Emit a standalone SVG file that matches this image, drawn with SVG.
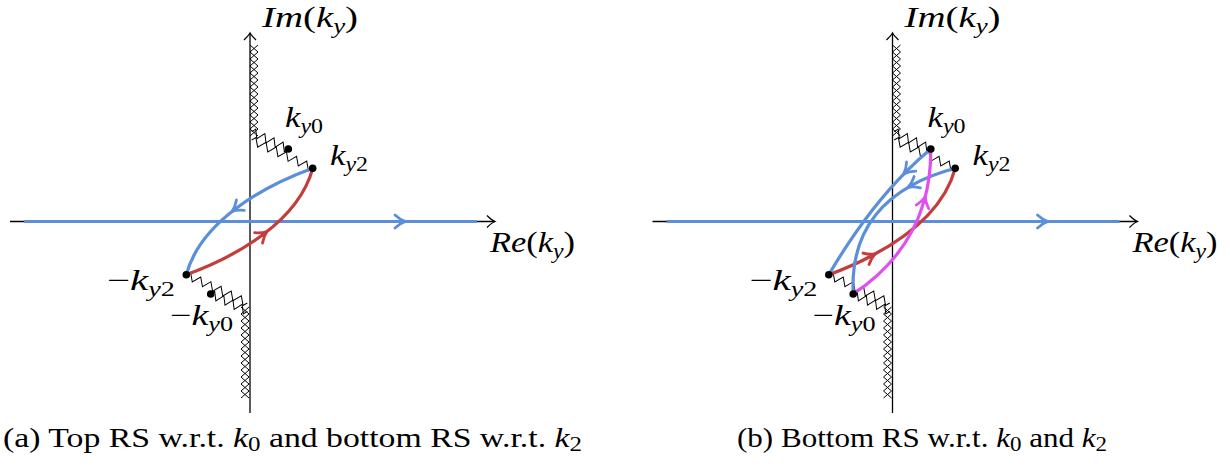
<svg xmlns="http://www.w3.org/2000/svg" xmlns:xlink="http://www.w3.org/1999/xlink" width="1230" height="468" viewBox="0 0 1230 468">
<style>
.ax{fill:none;stroke:#000;stroke-width:1.3}
.zz{fill:none;stroke:#000;stroke-width:1;stroke-linejoin:miter}
.cb{fill:none;stroke:#5b8fd9;stroke-width:3.2}
.cr{fill:none;stroke:#c43c3c;stroke-width:3.2}
.cm{fill:none;stroke:#e04ff0;stroke-width:3.2}
.dot{fill:#000}
.m{font-family:"Liberation Serif","DejaVu Serif",serif;font-size:29px;fill:#000}
.i{font-style:italic}
.s{font-size:20px}
.cap{font-family:"Liberation Serif","DejaVu Serif",serif;font-size:27px;fill:#000}
</style>
<defs>
<marker id="ab" markerUnits="userSpaceOnUse" orient="auto" markerWidth="20" markerHeight="20" viewBox="-10 -10 20 20" refX="0" refY="0" overflow="visible"><path d="M-6,-6.5 Q-1,-1.8 4.5,0 Q-1,1.8 -6,6.5" fill="none" stroke="#5b8fd9" stroke-width="2.8" stroke-linecap="round"/></marker>
<marker id="ar" markerUnits="userSpaceOnUse" orient="auto" markerWidth="20" markerHeight="20" viewBox="-10 -10 20 20" refX="0" refY="0" overflow="visible"><path d="M-6,-6.5 Q-1,-1.8 4.5,0 Q-1,1.8 -6,6.5" fill="none" stroke="#c43c3c" stroke-width="2.8" stroke-linecap="round"/></marker>
<marker id="am" markerUnits="userSpaceOnUse" orient="auto" markerWidth="20" markerHeight="20" viewBox="-10 -10 20 20" refX="0" refY="0" overflow="visible"><path d="M-6,-6.5 Q-1,-1.8 4.5,0 Q-1,1.8 -6,6.5" fill="none" stroke="#e04ff0" stroke-width="2.8" stroke-linecap="round"/></marker>
<path id="z1" class="zz" d="M0,0 l2.53,-4 l5.06,8 l5.06,-8 l5.06,8 l5.06,-8 l5.06,8 l5.06,-8 l5.06,8 l2.53,-4"/>
<path id="z2" class="zz" d="M0,0 l2.8,-4 l5.6,8 l5.6,-8 l5.6,8 l5.6,-8 l5.6,8 l5.6,-8 l5.6,8 l5.6,-8 l5.6,8 l5.6,-8 l5.6,8 l2.8,-4"/>
<g id="hatch">
<path class="zz" d="M250,45 l8,7 l-8,7 l8,7 l-8,7 l8,7 l-8,7 l8,7 l-8,7 l8,7 l-8,7 l8,7 l-8,7 l8,7"/>
<path class="zz" d="M258,45 l-8,7 l8,7 l-8,7 l8,7 l-8,7 l8,7 l-8,7 l8,7 l-8,7 l8,7 l-8,7 l8,7 l-8,7"/>
<path class="zz" d="M249,398 l-8,-7 l8,-7 l-8,-7 l8,-7 l-8,-7 l8,-7 l-8,-7 l8,-7 l-8,-7 l8,-7 l-8,-7 l8,-7 l-8,-7"/>
<path class="zz" d="M241,398 l8,-7 l-8,-7 l8,-7 l-8,-7 l8,-7 l-8,-7 l8,-7 l-8,-7 l8,-7 l-8,-7 l8,-7 l-8,-7 l8,-7"/>
<use xlink:href="#z1" href="#z1" transform="translate(251.7,131.7) rotate(25.3)"/>
<use xlink:href="#z2" href="#z2" transform="translate(251.7,140) rotate(24.9)"/>
<use xlink:href="#z1" href="#z1" transform="translate(247.3,311.3) rotate(205.3)"/>
<use xlink:href="#z2" href="#z2" transform="translate(247.3,303) rotate(204.9)"/>
</g>
<g id="axes">
<path class="ax" d="M10,221.5 H495"/>
<path class="ax" d="M487,215.5 C489.5,218 492.5,220.5 495,221.5 C492.5,222.5 489.5,225 487,227.5"/>
<path class="ax" d="M250,413 V33"/>
<path class="ax" d="M244,40 C246.5,37.5 249,35 250,33 C251,35 253.5,37.5 256,40"/>
<path class="cb" d="M24,221.5 H401 H477" marker-mid="url(#ab)"/>
</g>
</defs>

<g id="panel-a">
<use xlink:href="#hatch" href="#hatch"/>
<use xlink:href="#axes" href="#axes"/>
<text class="m" x="262" y="27" textLength="96" lengthAdjust="spacingAndGlyphs"><tspan class="i">Im</tspan>(<tspan class="i">k</tspan><tspan class="s i" dy="6">y</tspan><tspan dy="-6">)</tspan></text>
<text class="m" x="490" y="252" textLength="85" lengthAdjust="spacingAndGlyphs"><tspan class="i">Re</tspan>(<tspan class="i">k</tspan><tspan class="s i" dy="6">y</tspan><tspan dy="-6">)</tspan></text>
<g id="a-connectors">
<path class="cb" d="M312.7,168.3 C287.1,177.6 259.02,191.05 235.59,208.75 C212.15,226.45 193.35,248.4 186.3,274.7" marker-mid="url(#ab)"/>
<path class="cr" d="M186.3,274.7 C211.9,265.4 239.98,251.95 263.41,234.25 C286.85,216.55 305.65,194.6 312.7,168.3" marker-mid="url(#ar)"/>
</g>
<g id="a-ky0"><circle class="dot" cx="288.3" cy="149" r="3.8"/><text class="m" x="285" y="127" textLength="38" lengthAdjust="spacingAndGlyphs"><tspan class="i">k</tspan><tspan class="s i" dy="6">y</tspan><tspan class="s">0</tspan></text></g>
<g id="a-ky2"><circle class="dot" cx="312.7" cy="168.3" r="3.8"/><text class="m" x="330" y="165" textLength="38" lengthAdjust="spacingAndGlyphs"><tspan class="i">k</tspan><tspan class="s i" dy="6">y</tspan><tspan class="s">2</tspan></text></g>
<g id="a-mky2"><circle class="dot" cx="186.3" cy="274.7" r="3.8"/><text class="m" x="107" y="290" textLength="68" lengthAdjust="spacingAndGlyphs">−<tspan class="i">k</tspan><tspan class="s i" dy="6">y</tspan><tspan class="s">2</tspan></text></g>
<g id="a-mky0"><circle class="dot" cx="210.7" cy="294" r="3.8"/><text class="m" x="170" y="325" textLength="63" lengthAdjust="spacingAndGlyphs">−<tspan class="i">k</tspan><tspan class="s i" dy="6">y</tspan><tspan class="s">0</tspan></text></g>
</g>

<g id="panel-b" transform="translate(642.5,0)">
<use xlink:href="#hatch" href="#hatch"/>
<use xlink:href="#axes" href="#axes"/>
<text class="m" x="262" y="27" textLength="96" lengthAdjust="spacingAndGlyphs"><tspan class="i">Im</tspan>(<tspan class="i">k</tspan><tspan class="s i" dy="6">y</tspan><tspan dy="-6">)</tspan></text>
<text class="m" x="490" y="252" textLength="85" lengthAdjust="spacingAndGlyphs"><tspan class="i">Re</tspan>(<tspan class="i">k</tspan><tspan class="s i" dy="6">y</tspan><tspan dy="-6">)</tspan></text>
<g id="b-connectors">
<path class="cr" d="M186.3,274.7 C200.12,269.68 214.67,263.45 228.82,255.99 C267.07,235.83 302.41,206.7 312.7,168.3" marker-mid="url(#ar)"/>
<path class="cb" d="M288.3,149 Q276.16,159.09 264.4,170.82 Q222.8,212.42 186.3,274.7" marker-mid="url(#ab)"/>
<path class="cb" d="M312.7,168.3 Q288.16,174.9 269.51,185.11 Q207.08,219.31 210.7,294" marker-mid="url(#ab)"/>
<path class="cm" d="M210.7,294 Q265.44,257.67 281.57,201.15 Q288.48,176.93 288.3,149" marker-mid="url(#am)"/>
</g>
<g id="b-ky0"><circle class="dot" cx="288.3" cy="149" r="3.8"/><text class="m" x="285" y="127" textLength="38" lengthAdjust="spacingAndGlyphs"><tspan class="i">k</tspan><tspan class="s i" dy="6">y</tspan><tspan class="s">0</tspan></text></g>
<g id="b-ky2"><circle class="dot" cx="312.7" cy="168.3" r="3.8"/><text class="m" x="330" y="165" textLength="38" lengthAdjust="spacingAndGlyphs"><tspan class="i">k</tspan><tspan class="s i" dy="6">y</tspan><tspan class="s">2</tspan></text></g>
<g id="b-mky2"><circle class="dot" cx="186.3" cy="274.7" r="3.8"/><text class="m" x="107" y="290" textLength="68" lengthAdjust="spacingAndGlyphs">−<tspan class="i">k</tspan><tspan class="s i" dy="6">y</tspan><tspan class="s">2</tspan></text></g>
<g id="b-mky0"><circle class="dot" cx="210.7" cy="294" r="3.8"/><text class="m" x="170" y="325" textLength="63" lengthAdjust="spacingAndGlyphs">−<tspan class="i">k</tspan><tspan class="s i" dy="6">y</tspan><tspan class="s">0</tspan></text></g>
</g>

<g id="captions">
<text class="cap" x="3" y="447" textLength="579" lengthAdjust="spacingAndGlyphs">(a) Top RS w.r.t. <tspan class="i">k</tspan><tspan class="s" dy="4">0</tspan><tspan dy="-4"> and bottom RS w.r.t. </tspan><tspan class="i">k</tspan><tspan class="s" dy="4">2</tspan></text>
<text class="cap" x="737" y="447" textLength="370" lengthAdjust="spacingAndGlyphs">(b) Bottom RS w.r.t. <tspan class="i">k</tspan><tspan class="s" dy="4">0</tspan><tspan dy="-4"> and </tspan><tspan class="i">k</tspan><tspan class="s" dy="4">2</tspan></text>
</g>
</svg>
